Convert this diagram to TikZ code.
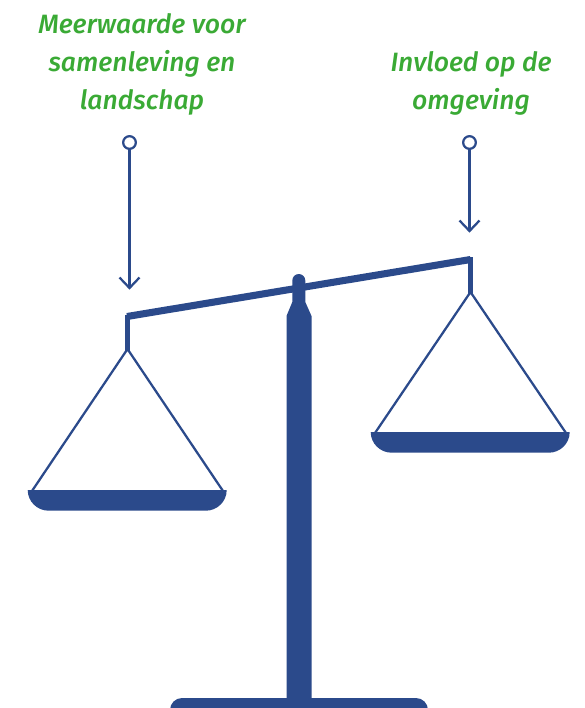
\documentclass[tikz,border=0pt]{standalone}
\usepackage{fontspec}
\setmainfont{Fira Sans}[ItalicFont={Fira Sans Medium Italic}]
\usetikzlibrary{arrows.meta}
\definecolor{scaleblue}{HTML}{2B4A8B}
\definecolor{labelgreen}{HTML}{3AAA35}
\tikzset{
  labeltext/.style={text=labelgreen,font=\fontsize{19.9}{28.2}\selectfont\itshape,align=center,inner sep=0pt},
  ring/.style={circle,draw=scaleblue,line width=1.7pt,fill=white,minimum size=9.5pt,inner sep=0pt,outer sep=0pt},
  pointer/.style={draw=scaleblue,line width=1.7pt},
  cord/.style={draw=scaleblue,line width=1.7pt},
  solid part/.style={fill=scaleblue,draw=none}
}
\begin{document}
\begin{tikzpicture}[x=0.75pt,y=-0.75pt]
\useasboundingbox (0,0) rectangle (585,708);
% text
\node[labeltext,anchor=base] (t1) at (142,109) {Meerwaarde voor\\samenleving en\\landschap};
\node[labeltext,anchor=base] (t2) at (471,109) {Invloed op de\\omgeving};
% post and base
\path[solid part] (292.3,302) -- (292.3,280.5) arc[start angle=180,end angle=360,radius=6.5] -- (305.3,302) -- (311.5,316) -- (311.5,708) -- (286.5,708) -- (286.5,316) -- cycle;
\path[solid part] (170,708) -- (170,710) arc[start angle=180,end angle=270,radius=12] -- (416,698) arc[start angle=270,end angle=360,radius=12] -- cycle;
% beam and hangers
\draw[draw=scaleblue,line width=5.3pt] (127,316.5) -- (470.5,259.5);
\path[solid part] (125,315) rectangle (130,351);
\path[solid part] (468,257) rectangle (473,294);
% left pan
\coordinate (la) at (127.5,349);
\coordinate (lb) at (32,491);
\coordinate (lc) at (223,491);
\draw[cord,line join=miter] (lb) -- (la) -- (lc);
\path[solid part] (27.7,490) -- (226.7,490) arc[start angle=0,end angle=90,x radius=21,y radius=20.7] -- (48.7,510.7) arc[start angle=90,end angle=180,x radius=21,y radius=20.7] -- cycle;
% right pan
\coordinate (ra) at (470.5,292);
\coordinate (rb) at (375,433);
\coordinate (rc) at (566,433);
\draw[cord,line join=miter] (rb) -- (ra) -- (rc);
\path[solid part] (370.7,432) -- (569.7,432) arc[start angle=0,end angle=90,x radius=21,y radius=20.7] -- (391.7,452.7) arc[start angle=90,end angle=180,x radius=21,y radius=20.7] -- cycle;
% pointers
\node[ring] (c1) at (129.5,142.5) {};
\coordinate (e1) at (129.5,288);
\draw[pointer] (c1) -- (e1);
\draw[pointer] (119.5,277.5) -- (e1) -- (139.5,277.5);
\node[ring] (c2) at (469.5,142.5) {};
\coordinate (e2) at (469.5,231);
\draw[pointer] (c2) -- (e2);
\draw[pointer] (459.5,220.5) -- (e2) -- (479.5,220.5);
\end{tikzpicture}
\end{document}
